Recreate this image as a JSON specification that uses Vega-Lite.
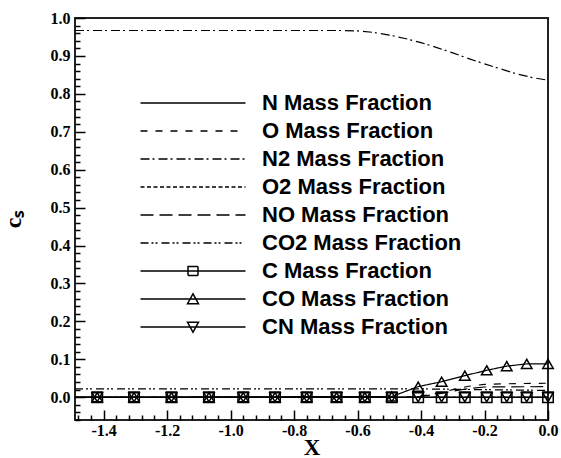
{
  "$schema": "https://vega.github.io/schema/vega-lite/v6.json",
  "width": 473,
  "height": 402,
  "autosize": "none",
  "padding": {"left": 75, "top": 18, "right": 13, "bottom": 38},
  "background": "white",
  "config": {
    "view": {"stroke": "#222222", "strokeWidth": 2},
    "axis": {
      "domain": false,
      "grid": false,
      "tickColor": "black",
      "tickWidth": 1.5,
      "labelColor": "black",
      "labelFont": "Liberation Serif",
      "labelFontWeight": "bold",
      "labelFontSize": 16,
      "labelFlush": false,
      "labelOverlap": false,
      "titleColor": "black",
      "titleFont": "Liberation Serif",
      "titleFontWeight": "bold",
      "titleFontSize": 24
    }
  },
  "datasets": {
    "curves": [
      {"species": "N Mass Fraction", "x": -1.49, "y": 0},
      {"species": "N Mass Fraction", "x": 0, "y": 0},

      {"species": "O Mass Fraction", "x": -1.49, "y": 0},
      {"species": "O Mass Fraction", "x": -0.45, "y": 0},
      {"species": "O Mass Fraction", "x": -0.4, "y": 0.003},
      {"species": "O Mass Fraction", "x": -0.35, "y": 0.01},
      {"species": "O Mass Fraction", "x": -0.3, "y": 0.02},
      {"species": "O Mass Fraction", "x": -0.25, "y": 0.029},
      {"species": "O Mass Fraction", "x": -0.2, "y": 0.034},
      {"species": "O Mass Fraction", "x": -0.1, "y": 0.036},
      {"species": "O Mass Fraction", "x": 0, "y": 0.037},

      {"species": "N2 Mass Fraction", "x": -1.49, "y": 0.967},
      {"species": "N2 Mass Fraction", "x": -0.65, "y": 0.967},
      {"species": "N2 Mass Fraction", "x": -0.6, "y": 0.966},
      {"species": "N2 Mass Fraction", "x": -0.55, "y": 0.962},
      {"species": "N2 Mass Fraction", "x": -0.5, "y": 0.955},
      {"species": "N2 Mass Fraction", "x": -0.45, "y": 0.946},
      {"species": "N2 Mass Fraction", "x": -0.4, "y": 0.935},
      {"species": "N2 Mass Fraction", "x": -0.35, "y": 0.922},
      {"species": "N2 Mass Fraction", "x": -0.3, "y": 0.908},
      {"species": "N2 Mass Fraction", "x": -0.25, "y": 0.893},
      {"species": "N2 Mass Fraction", "x": -0.2, "y": 0.879},
      {"species": "N2 Mass Fraction", "x": -0.15, "y": 0.866},
      {"species": "N2 Mass Fraction", "x": -0.1, "y": 0.853},
      {"species": "N2 Mass Fraction", "x": -0.05, "y": 0.843},
      {"species": "N2 Mass Fraction", "x": 0, "y": 0.836},

      {"species": "O2 Mass Fraction", "x": -1.49, "y": 0},
      {"species": "O2 Mass Fraction", "x": 0, "y": 0},

      {"species": "NO Mass Fraction", "x": -1.49, "y": 0},
      {"species": "NO Mass Fraction", "x": -0.45, "y": 0},
      {"species": "NO Mass Fraction", "x": -0.4, "y": 0.002},
      {"species": "NO Mass Fraction", "x": -0.35, "y": 0.008},
      {"species": "NO Mass Fraction", "x": -0.3, "y": 0.016},
      {"species": "NO Mass Fraction", "x": -0.25, "y": 0.023},
      {"species": "NO Mass Fraction", "x": -0.2, "y": 0.027},
      {"species": "NO Mass Fraction", "x": 0, "y": 0.028},

      {"species": "CO2 Mass Fraction", "x": -1.49, "y": 0.022},
      {"species": "CO2 Mass Fraction", "x": -0.4, "y": 0.022},
      {"species": "CO2 Mass Fraction", "x": -0.2, "y": 0.02},
      {"species": "CO2 Mass Fraction", "x": 0, "y": 0.018},

      {"species": "C Mass Fraction", "x": -1.49, "y": 0},
      {"species": "C Mass Fraction", "x": 0, "y": 0},

      {"species": "CO Mass Fraction", "x": -1.49, "y": 0},
      {"species": "CO Mass Fraction", "x": -0.492, "y": 0.002},
      {"species": "CO Mass Fraction", "x": -0.409, "y": 0.028},
      {"species": "CO Mass Fraction", "x": -0.335, "y": 0.041},
      {"species": "CO Mass Fraction", "x": -0.262, "y": 0.057},
      {"species": "CO Mass Fraction", "x": -0.193, "y": 0.071},
      {"species": "CO Mass Fraction", "x": -0.13, "y": 0.082},
      {"species": "CO Mass Fraction", "x": -0.067, "y": 0.088},
      {"species": "CO Mass Fraction", "x": 0, "y": 0.088},

      {"species": "CN Mass Fraction", "x": -1.49, "y": 0},
      {"species": "CN Mass Fraction", "x": 0, "y": 0}
    ],
    "markers": [
      {"species": "C Mass Fraction", "x": -1.42, "y": 0},
      {"species": "C Mass Fraction", "x": -1.304, "y": 0},
      {"species": "C Mass Fraction", "x": -1.186, "y": 0},
      {"species": "C Mass Fraction", "x": -1.068, "y": 0},
      {"species": "C Mass Fraction", "x": -0.96, "y": 0},
      {"species": "C Mass Fraction", "x": -0.86, "y": 0},
      {"species": "C Mass Fraction", "x": -0.76, "y": 0},
      {"species": "C Mass Fraction", "x": -0.666, "y": 0},
      {"species": "C Mass Fraction", "x": -0.577, "y": 0},
      {"species": "C Mass Fraction", "x": -0.492, "y": 0},
      {"species": "C Mass Fraction", "x": -0.409, "y": 0},
      {"species": "C Mass Fraction", "x": -0.335, "y": 0},
      {"species": "C Mass Fraction", "x": -0.262, "y": 0},
      {"species": "C Mass Fraction", "x": -0.193, "y": 0},
      {"species": "C Mass Fraction", "x": -0.13, "y": 0},
      {"species": "C Mass Fraction", "x": -0.067, "y": 0},
      {"species": "C Mass Fraction", "x": 0, "y": 0},

      {"species": "CO Mass Fraction", "x": -1.42, "y": 0},
      {"species": "CO Mass Fraction", "x": -1.304, "y": 0},
      {"species": "CO Mass Fraction", "x": -1.186, "y": 0},
      {"species": "CO Mass Fraction", "x": -1.068, "y": 0},
      {"species": "CO Mass Fraction", "x": -0.96, "y": 0},
      {"species": "CO Mass Fraction", "x": -0.86, "y": 0},
      {"species": "CO Mass Fraction", "x": -0.76, "y": 0},
      {"species": "CO Mass Fraction", "x": -0.666, "y": 0},
      {"species": "CO Mass Fraction", "x": -0.577, "y": 0},
      {"species": "CO Mass Fraction", "x": -0.492, "y": 0.002},
      {"species": "CO Mass Fraction", "x": -0.409, "y": 0.028},
      {"species": "CO Mass Fraction", "x": -0.335, "y": 0.041},
      {"species": "CO Mass Fraction", "x": -0.262, "y": 0.057},
      {"species": "CO Mass Fraction", "x": -0.193, "y": 0.071},
      {"species": "CO Mass Fraction", "x": -0.13, "y": 0.082},
      {"species": "CO Mass Fraction", "x": -0.067, "y": 0.088},
      {"species": "CO Mass Fraction", "x": 0, "y": 0.088},

      {"species": "CN Mass Fraction", "x": -1.42, "y": 0},
      {"species": "CN Mass Fraction", "x": -1.304, "y": 0},
      {"species": "CN Mass Fraction", "x": -1.186, "y": 0},
      {"species": "CN Mass Fraction", "x": -1.068, "y": 0},
      {"species": "CN Mass Fraction", "x": -0.96, "y": 0},
      {"species": "CN Mass Fraction", "x": -0.86, "y": 0},
      {"species": "CN Mass Fraction", "x": -0.76, "y": 0},
      {"species": "CN Mass Fraction", "x": -0.666, "y": 0},
      {"species": "CN Mass Fraction", "x": -0.577, "y": 0},
      {"species": "CN Mass Fraction", "x": -0.492, "y": 0},
      {"species": "CN Mass Fraction", "x": -0.409, "y": 0},
      {"species": "CN Mass Fraction", "x": -0.335, "y": 0},
      {"species": "CN Mass Fraction", "x": -0.262, "y": 0},
      {"species": "CN Mass Fraction", "x": -0.193, "y": 0},
      {"species": "CN Mass Fraction", "x": -0.13, "y": 0},
      {"species": "CN Mass Fraction", "x": -0.067, "y": 0},
      {"species": "CN Mass Fraction", "x": 0, "y": 0}
    ]
  },
  "encoding": {
    "x": {
      "field": "x",
      "type": "quantitative",
      "scale": {"domain": [-1.49, 0], "nice": false, "zero": false},
      "axis": {
        "title": "X",
        "titleY": 16,
        "titleBaseline": "top",
        "titleFontSize": 23,
        "values": [-1.48, -1.44, -1.4, -1.36, -1.32, -1.28, -1.24, -1.2, -1.16, -1.12, -1.08, -1.04, -1.0, -0.96, -0.92, -0.88, -0.84, -0.8, -0.76, -0.72, -0.68, -0.64, -0.6, -0.56, -0.52, -0.48, -0.44, -0.4, -0.36, -0.32, -0.28, -0.24, -0.2, -0.16, -0.12, -0.08, -0.04, 0],
        "labelExpr": "abs(datum.value * 5 - round(datum.value * 5)) < 1e-6 ? replace(format(datum.value, '.1f'), '\u2212', '-') : ''",
        "labelPadding": 12,
        "tickSize": {"condition": {"test": "abs(datum.value * 5 - round(datum.value * 5)) < 1e-6", "value": -10}, "value": -5}
      }
    },
    "y": {
      "field": "y",
      "type": "quantitative",
      "scale": {"domain": [-0.06, 1.0], "nice": false, "zero": false},
      "axis": {
        "title": "c\u209b",
        "titleX": -50,
        "titleBaseline": "bottom",
        "values": [-0.06, -0.04, -0.02, 0, 0.02, 0.04, 0.06, 0.08, 0.1, 0.12, 0.14, 0.16, 0.18, 0.2, 0.22, 0.24, 0.26, 0.28, 0.3, 0.32, 0.34, 0.36, 0.38, 0.4, 0.42, 0.44, 0.46, 0.48, 0.5, 0.52, 0.54, 0.56, 0.58, 0.6, 0.62, 0.64, 0.66, 0.68, 0.7, 0.72, 0.74, 0.76, 0.78, 0.8, 0.82, 0.84, 0.86, 0.88, 0.9, 0.92, 0.94, 0.96, 0.98, 1.0],
        "labelExpr": "abs(datum.value * 10 - round(datum.value * 10)) < 1e-6 ? replace(format(datum.value, '.1f'), '\u2212', '-') : ''",
        "labelPadding": 15,
        "tickSize": {"condition": {"test": "abs(datum.value * 10 - round(datum.value * 10)) < 1e-6", "value": -10}, "value": -5}
      }
    }
  },
  "layer": [
    {
      "data": {"name": "curves"},
      "mark": {"type": "line", "color": "black", "strokeWidth": 1.2},
      "encoding": {
        "strokeDash": {
          "field": "species",
          "type": "nominal",
          "scale": {
            "domain": ["N Mass Fraction", "O Mass Fraction", "N2 Mass Fraction", "O2 Mass Fraction", "NO Mass Fraction", "CO2 Mass Fraction", "C Mass Fraction", "CO Mass Fraction", "CN Mass Fraction"],
            "range": [[1, 0], [7, 8], [9, 3, 2, 4], [4, 2.5], [13, 6], [8, 3, 2, 2, 2, 4], [1, 0], [1, 0], [1, 0]]
          },
          "legend": {
            "orient": "none",
            "legendX": 107,
            "legendY": 74,
            "title": null,
            "padding": 0,
            "symbolSize": 100,
            "symbolStrokeWidth": 1.5,
            "symbolStrokeColor": "black",
            "symbolFillColor": "transparent",
            "labelFont": "Liberation Sans",
            "labelFontWeight": "bold",
            "labelFontSize": 22,
            "labelColor": "black",
            "labelOffset": 58,
            "labelLimit": 400,
            "rowPadding": 6,
            "encode": {
              "symbols": {
                "update": {
                  "shape": {
                    "signal": "datum.value === 'C Mass Fraction' ? 'M-10.5,0H10.5M-1,-0.9H1V0.9H-1Z' : datum.value === 'CO Mass Fraction' ? 'M-10.5,0H10.5M-1.1,0.95L0,-1.05L1.1,0.95Z' : datum.value === 'CN Mass Fraction' ? 'M-10.5,0H10.5M-1.1,-0.95L0,1.05L1.1,-0.95Z' : 'M-10.5,0H10.5'"
                  }
                }
              }
            }
          }
        }
      }
    },
    {
      "data": {"name": "markers"},
      "mark": {"type": "point", "filled": false, "color": "black", "strokeWidth": 1.5, "size": 110, "opacity": 1},
      "encoding": {
        "shape": {
          "field": "species",
          "type": "nominal",
          "scale": {
            "domain": ["C Mass Fraction", "CO Mass Fraction", "CN Mass Fraction"],
            "range": ["square", "triangle-up", "triangle-down"]
          },
          "legend": null
        }
      }
    }
  ]
}
